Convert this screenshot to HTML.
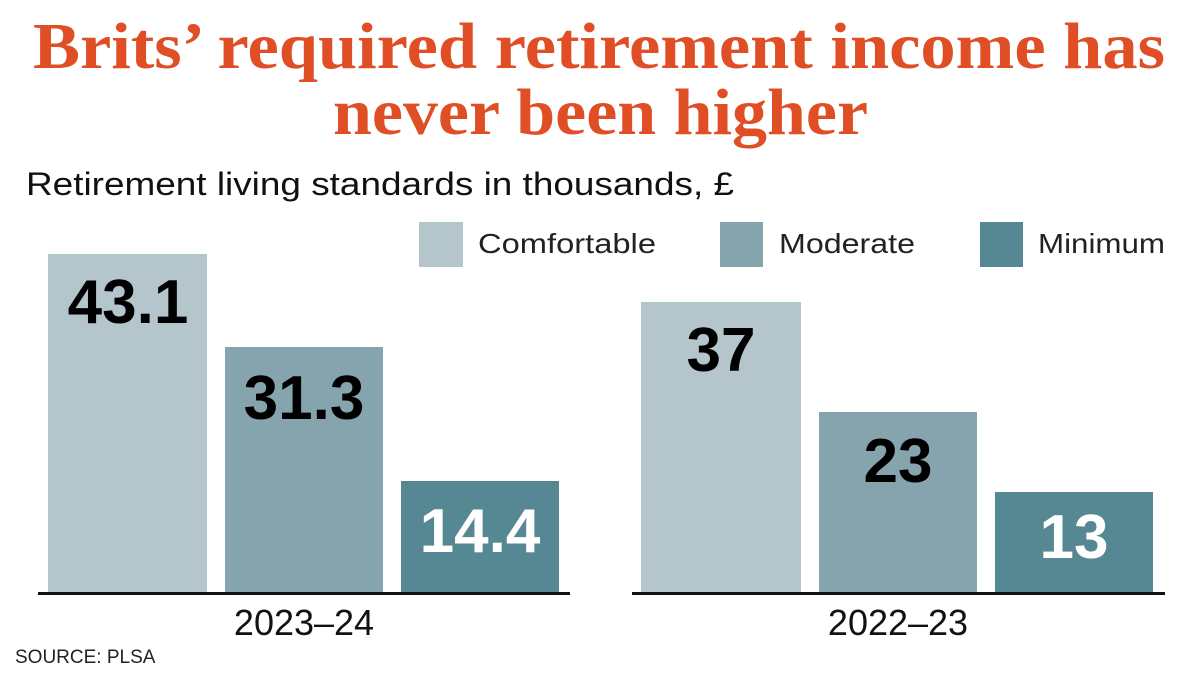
<!DOCTYPE html>
<html><head><meta charset="utf-8"><style>
html,body{margin:0;padding:0;background:#fff;}
svg{display:block}
</style></head><body>
<svg width="1200" height="675" viewBox="0 0 1200 675" xmlns="http://www.w3.org/2000/svg">
<rect width="1200" height="675" fill="#fff"/>
<g font-family="Liberation Serif, serif" font-weight="bold" fill="#e04e25" font-size="66">
<text x="33" y="68" textLength="1132" lengthAdjust="spacingAndGlyphs">Brits’ required retirement income has</text>
<text x="333" y="134" textLength="535" lengthAdjust="spacingAndGlyphs">never been higher</text>
</g>
<text x="26" y="195" font-family="Liberation Sans, sans-serif" font-size="32" fill="#111" textLength="708" lengthAdjust="spacingAndGlyphs">Retirement living standards in thousands, £</text>
<g font-family="Liberation Sans, sans-serif" font-size="28" fill="#222">
<rect x="419" y="222" width="44" height="45" fill="#b5c5cc"/>
<text x="478" y="253" textLength="178" lengthAdjust="spacingAndGlyphs">Comfortable</text>
<rect x="720" y="222" width="43" height="45" fill="#86a4ad"/>
<text x="779" y="253" textLength="136" lengthAdjust="spacingAndGlyphs">Moderate</text>
<rect x="980" y="222" width="43" height="45" fill="#568893"/>
<text x="1038" y="253" textLength="127" lengthAdjust="spacingAndGlyphs">Minimum</text>
</g>
<rect x="48" y="254" width="159" height="339" fill="#b5c5cc"/>
<rect x="225" y="347" width="158" height="246" fill="#86a4ad"/>
<rect x="401" y="481" width="158" height="112" fill="#568893"/>
<rect x="641" y="302" width="160" height="291" fill="#b5c5cc"/>
<rect x="819" y="412" width="158" height="181" fill="#86a4ad"/>
<rect x="995" y="492" width="158" height="101" fill="#568893"/>
<rect x="38" y="592" width="532" height="3" fill="#111"/>
<rect x="632" y="592" width="533" height="3" fill="#111"/>
<g font-family="Liberation Sans, sans-serif" font-weight="bold" font-size="62" text-anchor="middle">
<text x="128" y="323" fill="#000">43.1</text>
<text x="304" y="419" fill="#000">31.3</text>
<text x="480" y="552" fill="#fff">14.4</text>
<text x="721" y="371" fill="#000">37</text>
<text x="898" y="482" fill="#000">23</text>
<text x="1074" y="558" fill="#fff">13</text>
</g>
<g font-family="Liberation Sans, sans-serif" font-size="36" fill="#111" text-anchor="middle">
<text x="304" y="635">2023–24</text>
<text x="898" y="635">2022–23</text>
</g>
<text x="15" y="663" font-family="Liberation Sans, sans-serif" font-size="19" fill="#222">SOURCE: PLSA</text>
</svg>
</body></html>
